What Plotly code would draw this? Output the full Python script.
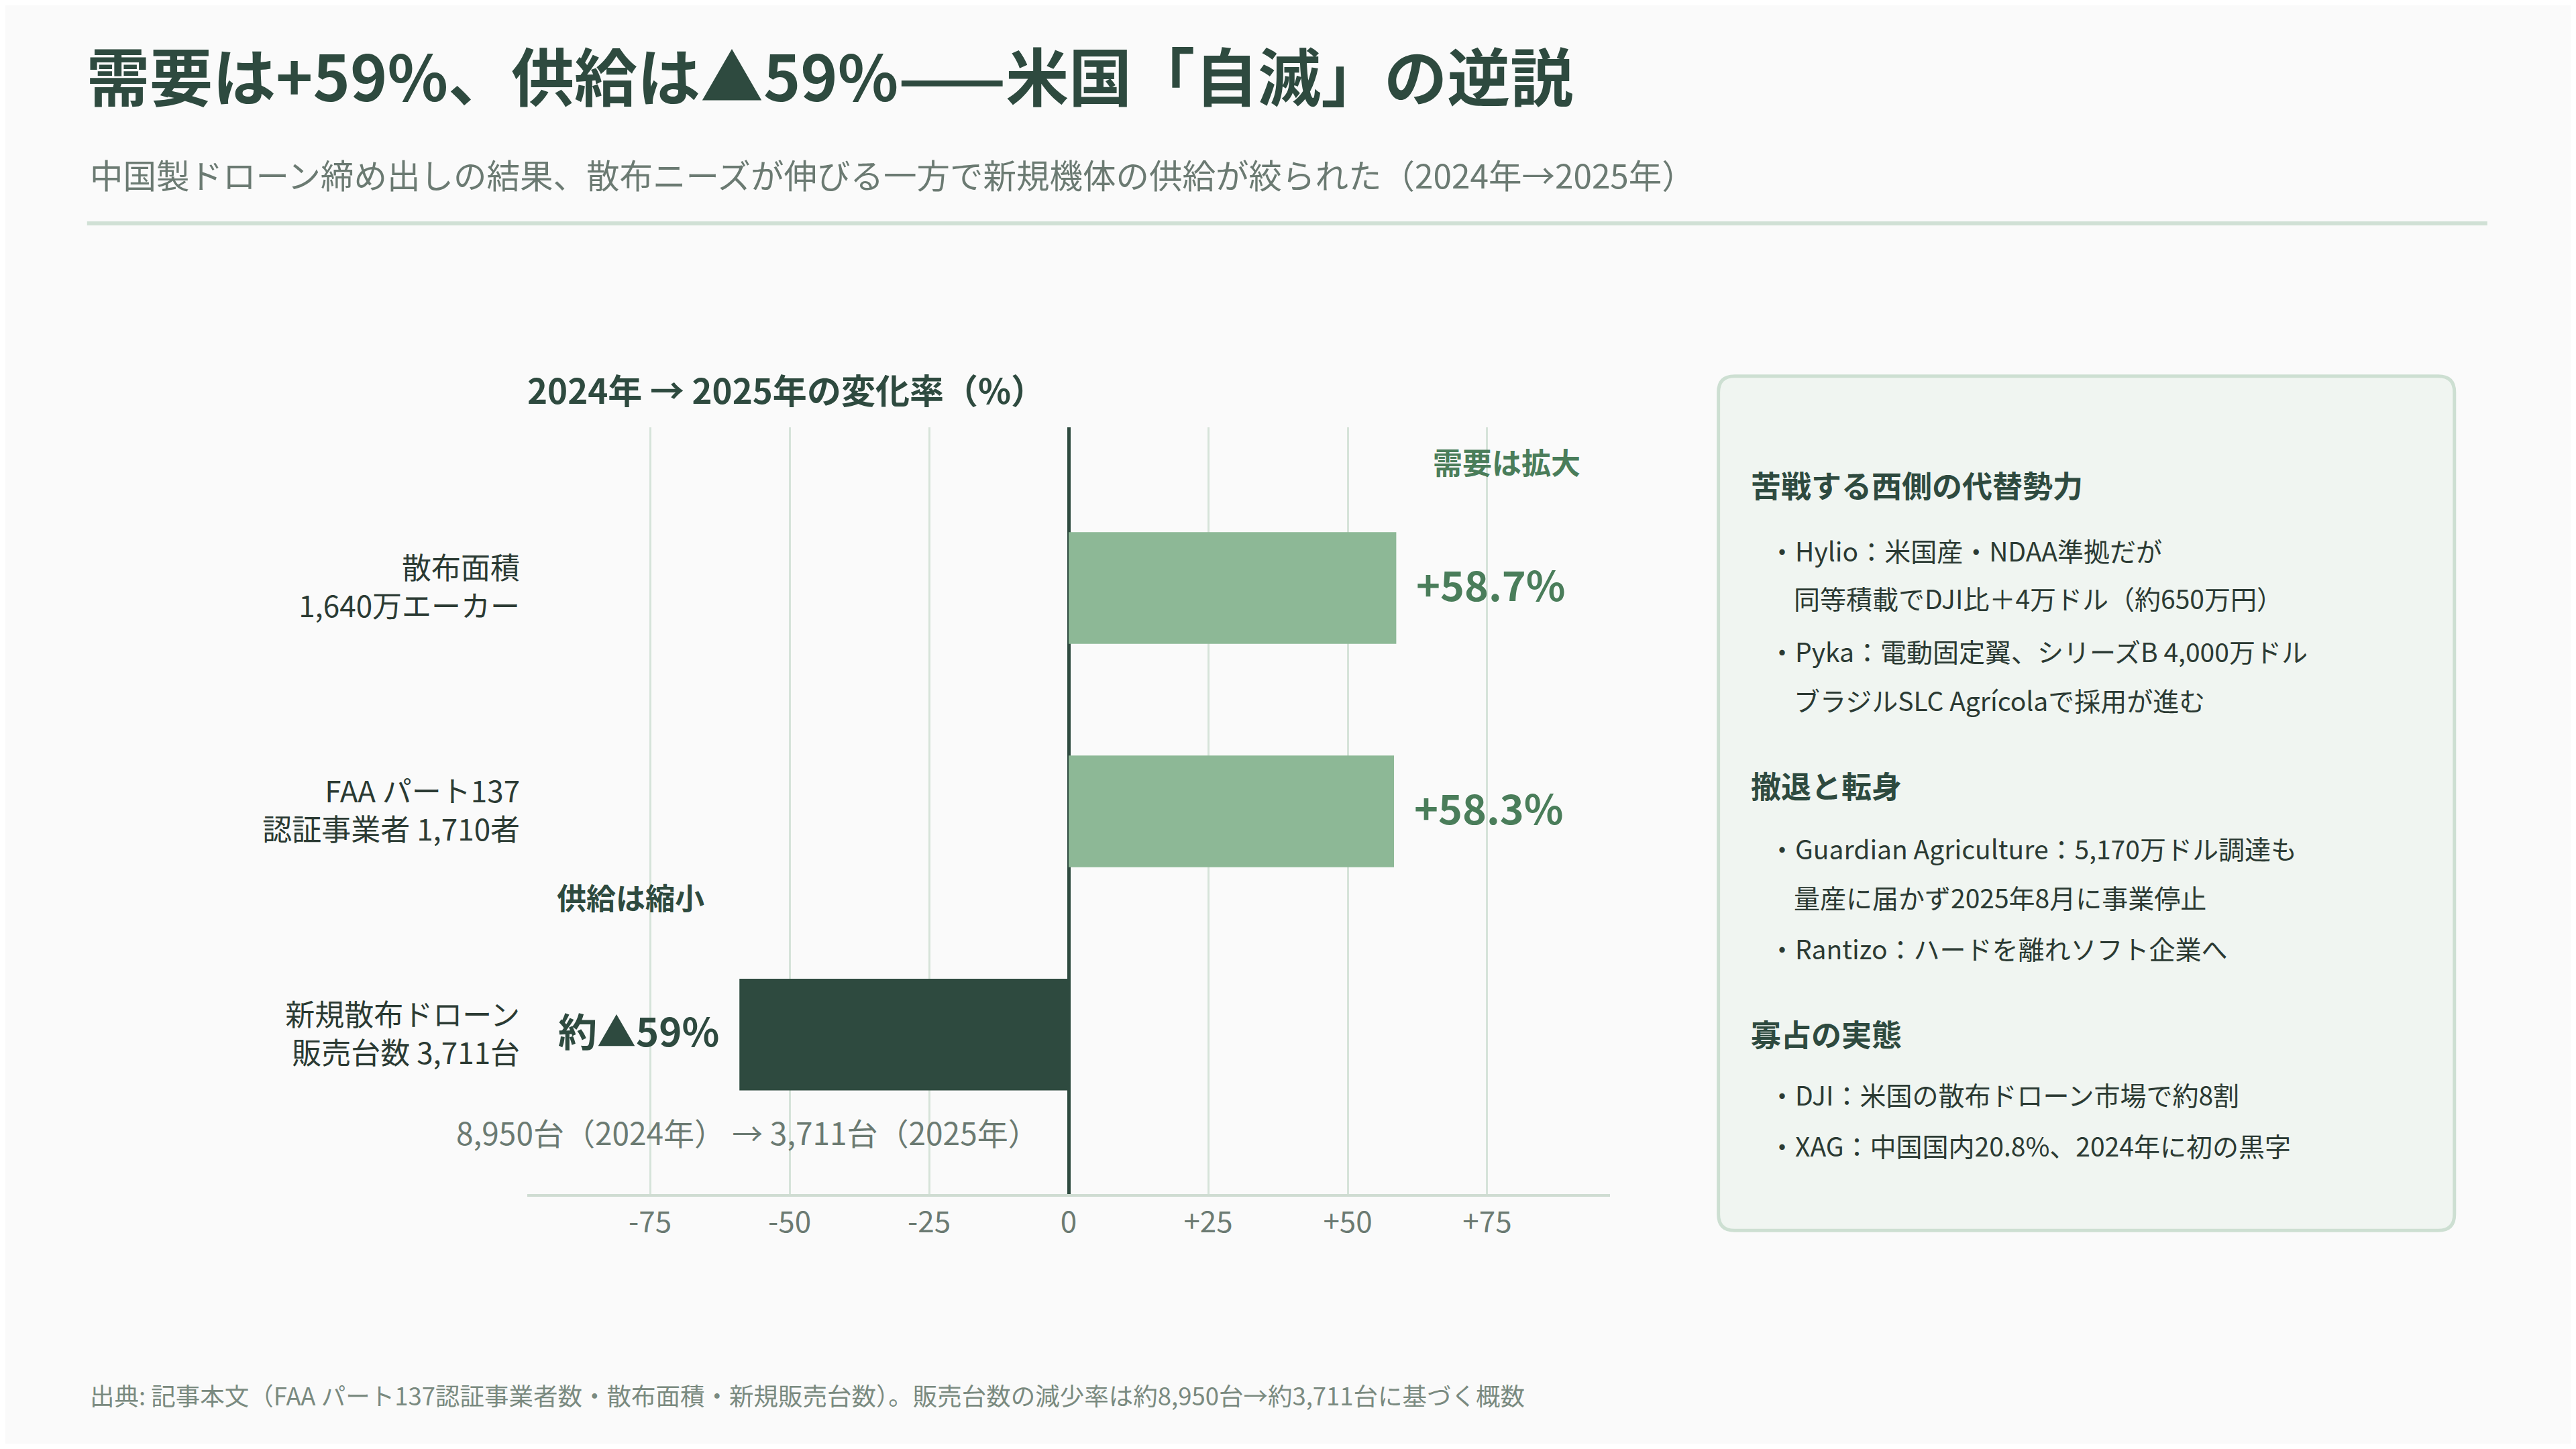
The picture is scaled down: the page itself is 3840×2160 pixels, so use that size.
import plotly.graph_objects as go

# data
categories = [
    "散布面積<br>1,640万エーカー",
    "FAA パート137<br>認証事業者 1,710者",
    "新規散布ドローン<br>販売台数 3,711台",
]
change_pct = [58.7, 58.3, -59.0]
value_labels = ["+58.7%", "+58.3%", "約▲59%"]
tick_vals = [-75, -50, -25, 0, 25, 50, 75]
tick_text = ["-75", "-50", "-25", "0", "+25", "+50", "+75"]

title_text = "需要は+59%、供給は▲59%——米国「自滅」の逆説"
subtitle_text = "中国製ドローン締め出しの結果、散布ニーズが伸びる一方で新規機体の供給が絞られた（2024年→2025年）"
chart_title = "2024年 → 2025年の変化率（%）"
demand_note = "需要は拡大"
supply_note = "供給は縮小"
units_note = "8,950台（2024年） → 3,711台（2025年）"
source_text = ("出典: 記事本文（FAA パート137認証事業者数・散布面積・新規販売台数）。"
               "販売台数の減少率は約8,950台→約3,711台に基づく概数")

panel_headings = ["苦戦する西側の代替勢力", "撤退と転身", "寡占の実態"]
panel_lines = [
    ["・Hylio：米国産・NDAA準拠だが", "同等積載でDJI比＋4万ドル（約650万円）",
     "・Pyka：電動固定翼、シリーズB 4,000万ドル", "ブラジルSLC Agrícolaで採用が進む"],
    ["・Guardian Agriculture：5,170万ドル調達も", "量産に届かず2025年8月に事業停止",
     "・Rantizo：ハードを離れソフト企業へ"],
    ["・DJI：米国の散布ドローン市場で約8割", "・XAG：中国国内20.8%、2024年に初の黒字"],
]

# page has an 8px body margin, so the figure is shrunk and shifted to compensate
PAD = 8
W, H = 3840 - 2 * PAD, 2160 - 2 * PAD
SCALE = 3840 / 1568
FONT = "Noto Sans CJK JP"
DARK = "#2e4a3f"
MID = "#4a7d5a"
LIGHT_BAR = "#8db896"
GRAY = "#6b7a72"
TEXT = "#2b3a33"


def px(x):
    return (x * SCALE - PAD) / W


def py(y):
    return 1 - (y * SCALE - PAD) / H


bar_colors = [LIGHT_BAR if v > 0 else DARK for v in change_pct]

fig = go.Figure()
fig.add_trace(go.Bar(
    x=change_pct, y=categories, orientation="h",
    marker=dict(color=bar_colors, line=dict(width=0)),
    width=0.5, hoverinfo="skip",
))

annotations = []
# value labels next to bar ends
for cat, v, lab in zip(categories, change_pct, value_labels):
    annotations.append(dict(
        x=v, y=cat, xref="x", yref="y", text=lab, showarrow=False,
        xanchor="left" if v > 0 else "right", yanchor="middle",
        xshift=28 if v > 0 else -28, yshift=7,
        font=dict(family=FONT, size=61 if v > 0 else 58,
                  color=MID if v > 0 else DARK, weight=700),
    ))


def note(text, x, y, size, color, anchor="left", weight=400):
    annotations.append(dict(
        x=px(x), y=py(y), xref="paper", yref="paper", text=text, showarrow=False,
        xanchor=anchor, yanchor="middle",
        font=dict(family=FONT, size=size, color=color, weight=weight),
    ))


note(title_text, 52, 45, 94, DARK, weight=700)
note(subtitle_text, 54, 106, 49.5, GRAY)
note(chart_title, 320, 237, 51, DARK, weight=700)
note(demand_note, 917, 281, 44, MID, anchor="center", weight=700)
note(supply_note, 384, 546, 44, DARK, anchor="center", weight=700)
note(units_note, 455, 689, 46, GRAY, anchor="center")
note(source_text, 54, 849, 36.5, "#7a8a80")

# side panel text
head_y = [295, 478, 629]
line_y = [[335, 364, 396, 426], [516, 546, 577], [666, 697]]
for hd, hy, lines, ys in zip(panel_headings, head_y, panel_lines, line_y):
    note(hd, 1065, hy, 45, DARK, weight=700)
    for ln, ly in zip(lines, ys):
        if ln.startswith("・"):
            note(ln, 1076, ly, 39, TEXT)
        else:
            note(ln, 1091, ly, 39, TEXT)

# rounded panel path
x0, x1, y0, y1 = px(1046), px(1494), py(749), py(229)
rx, ry = 24 / W, 24 / H
panel_path = (
    f"M {x0 + rx},{y1} L {x1 - rx},{y1} Q {x1},{y1} {x1},{y1 - ry} "
    f"L {x1},{y0 + ry} Q {x1},{y0} {x1 - rx},{y0} "
    f"L {x0 + rx},{y0} Q {x0},{y0} {x0},{y0 + ry} "
    f"L {x0},{y1 - ry} Q {x0},{y1} {x0 + rx},{y1} Z"
)

shapes = [
    dict(type="line", xref="paper", yref="paper", x0=px(53), x1=px(1514),
         y0=py(136), y1=py(136), line=dict(color="#d0e0d5", width=6)),
    dict(type="path", xref="paper", yref="paper", path=panel_path,
         fillcolor="#f0f5f1", line=dict(color="#cddfd2", width=5), layer="below"),
]

fig.update_layout(
    width=W, height=H,
    margin=dict(l=0, r=0, t=0, b=0),
    paper_bgcolor="#fafafa", plot_bgcolor="#fafafa",
    showlegend=False,
    annotations=annotations,
    shapes=shapes,
    font=dict(family=FONT, color=TEXT),
    xaxis=dict(
        domain=[px(321), px(980)], range=[-97, 97],
        tickvals=tick_vals, ticktext=tick_text,
        tickfont=dict(family=FONT, size=44, color=GRAY),
        showgrid=True, gridcolor="#d6e3d9", gridwidth=3,
        zeroline=True, zerolinecolor=DARK, zerolinewidth=5,
        showline=True, linecolor="#cfdcd2", linewidth=4,
        ticks="", fixedrange=True,
    ),
    yaxis=dict(
        domain=[py(727), py(260)],
        categoryorder="array", categoryarray=categories,
        range=[2.715, -0.72],
        tickfont=dict(family=FONT, size=44, color=TEXT),
        showgrid=False, zeroline=False, showline=False,
        ticks="", ticklabelstandoff=10, fixedrange=True,
    ),
)

fig.write_html("out.html")
